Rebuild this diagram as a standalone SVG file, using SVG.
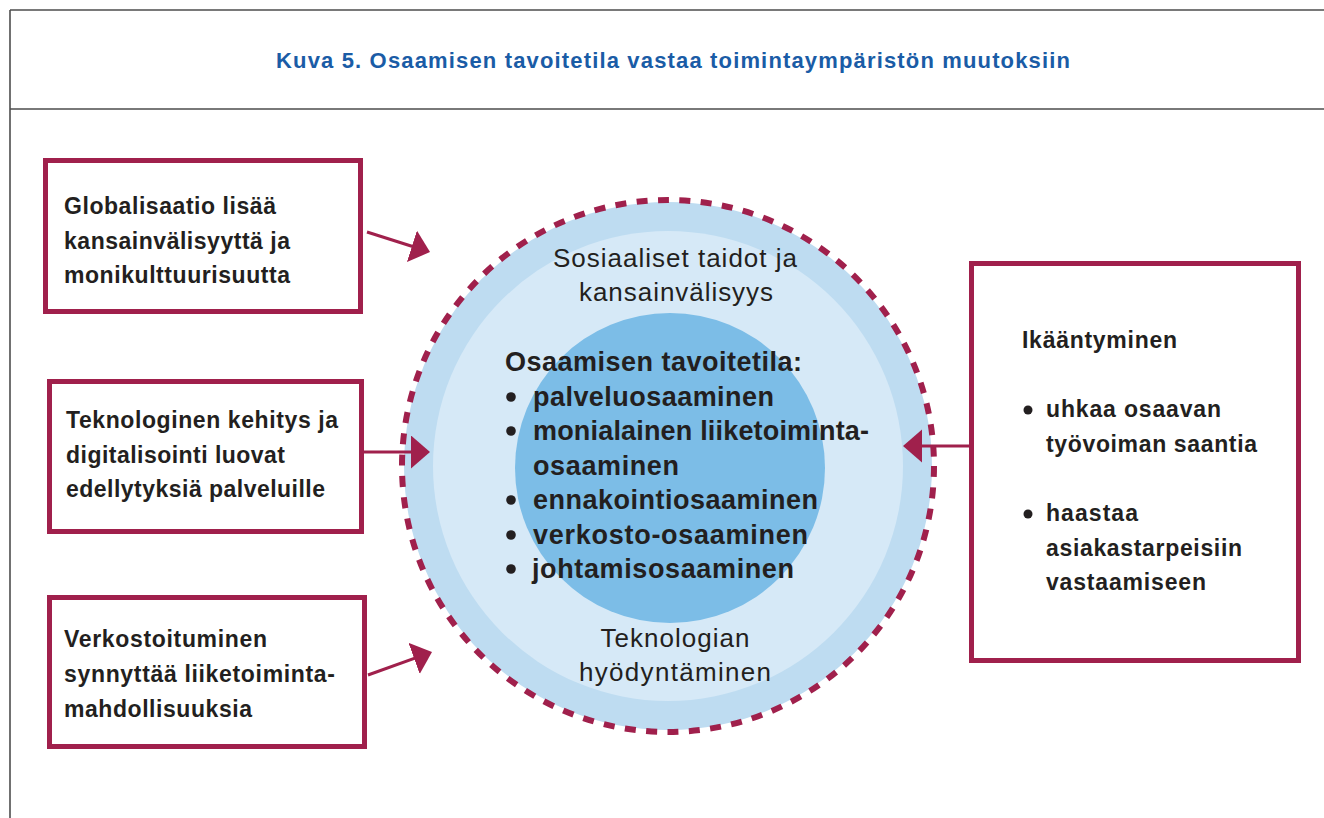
<svg xmlns="http://www.w3.org/2000/svg" width="1324" height="818" viewBox="0 0 1324 818">
<style>
.frame{stroke:#4d4d4d;stroke-width:1.6;fill:none}
.box{fill:#ffffff;stroke:#a0204c;stroke-width:5}
.bt{font-family:"Liberation Sans",Arial,sans-serif;font-weight:bold;font-size:23px;fill:#231f20}
.ct{font-family:"Liberation Sans",Arial,sans-serif;font-weight:bold;font-size:27px;fill:#231f20}
.rt{font-family:"Liberation Sans",Arial,sans-serif;font-size:26px;fill:#231f20;text-anchor:middle}
.title{font-family:"Liberation Sans",Arial,sans-serif;font-weight:bold;font-size:22px;fill:#1a5ca6;text-anchor:middle}
.conn{stroke:#a0204c;stroke-width:3;fill:none}
.dot{fill:#231f20}
</style>
<defs>
<marker id="ah" markerUnits="userSpaceOnUse" markerWidth="20" markerHeight="34" refX="9" refY="16.5" orient="auto" viewBox="0 0 20 34">
<path d="M0,0 L19,16.5 L0,33 Z" fill="#a0204c"/>
</marker>
</defs>
<rect width="1324" height="818" fill="#ffffff"/>
<g id="frame">
<line class="frame" x1="10" y1="10" x2="1324" y2="10"/>
<line class="frame" x1="10" y1="109" x2="1324" y2="109"/>
<line class="frame" x1="10" y1="10" x2="10" y2="818"/>
<text class="title" x="673" y="68" textLength="794">Kuva 5. Osaamisen tavoitetila vastaa toimintaympäristön muutoksiin</text>
</g>
<g id="circle">
<circle cx="668" cy="466" r="264" fill="#bedcf1"/>
<circle cx="668" cy="466" r="266" fill="none" stroke="#a0204c" stroke-width="6" stroke-dasharray="11 10.43"/>
<circle cx="668" cy="466" r="235" fill="#d6e9f7"/>
<circle cx="670" cy="468" r="155" fill="#7cbde7"/>
<text class="rt" x="675" y="267" textLength="244">Sosiaaliset taidot ja</text>
<text class="rt" x="676" y="301" textLength="194">kansainvälisyys</text>
<text class="rt" x="675" y="647" textLength="149">Teknologian</text>
<text class="rt" x="675" y="681" textLength="192">hyödyntäminen</text>
</g>
<g id="core">
<text class="ct" x="505" y="371" textLength="297">Osaamisen tavoitetila:</text>
<circle class="dot" cx="511" cy="397" r="4.8"/>
<text class="ct" x="533" y="405.5" textLength="241">palveluosaaminen</text>
<circle class="dot" cx="511" cy="431" r="4.8"/>
<text class="ct" x="533" y="440" textLength="336">monialainen liiketoiminta-</text>
<text class="ct" x="533" y="474.5" textLength="146">osaaminen</text>
<circle class="dot" cx="511" cy="500" r="4.8"/>
<text class="ct" x="533" y="509" textLength="285">ennakointiosaaminen</text>
<circle class="dot" cx="511" cy="535" r="4.8"/>
<text class="ct" x="533" y="543.5" textLength="275">verkosto-osaaminen</text>
<circle class="dot" cx="511" cy="569" r="4.8"/>
<text class="ct" x="532" y="578" textLength="262">johtamisosaaminen</text>
</g>
<g id="box-globalisaatio">
<rect class="box" x="45.5" y="160.5" width="315" height="151"/>
<text class="bt" x="64" y="214" textLength="212">Globalisaatio lisää</text>
<text class="bt" x="64" y="249" textLength="226">kansainvälisyyttä ja</text>
<text class="bt" x="64" y="283" textLength="226">monikulttuurisuutta</text>
</g>
<g id="box-teknologinen">
<rect class="box" x="49.5" y="381.5" width="312" height="150"/>
<text class="bt" x="66" y="428" textLength="272">Teknologinen kehitys ja</text>
<text class="bt" x="66" y="462.5" textLength="219">digitalisointi luovat</text>
<text class="bt" x="66" y="497" textLength="259">edellytyksiä palveluille</text>
</g>
<g id="box-verkostoituminen">
<rect class="box" x="49.5" y="597.5" width="315" height="149"/>
<text class="bt" x="64" y="647" textLength="203">Verkostoituminen</text>
<text class="bt" x="64" y="682" textLength="271">synnyttää liiketoiminta-</text>
<text class="bt" x="64" y="717" textLength="188">mahdollisuuksia</text>
</g>
<g id="box-ikaantyminen">
<rect class="box" x="971.5" y="263.5" width="327" height="397"/>
<text class="bt" x="1022" y="348" textLength="155">Ikääntyminen</text>
<circle class="dot" cx="1028" cy="410" r="4.5"/>
<text class="bt" x="1046" y="417" textLength="175">uhkaa osaavan</text>
<text class="bt" x="1046" y="452" textLength="211">työvoiman saantia</text>
<circle class="dot" cx="1028" cy="514" r="4.5"/>
<text class="bt" x="1046" y="521" textLength="92">haastaa</text>
<text class="bt" x="1046" y="556" textLength="196">asiakastarpeisiin</text>
<text class="bt" x="1046" y="590" textLength="160">vastaamiseen</text>
</g>
<g id="connectors">
<line class="conn" x1="367" y1="232" x2="420.5" y2="249" marker-end="url(#ah)"/>
<line class="conn" x1="364" y1="452" x2="420" y2="452" marker-end="url(#ah)"/>
<line class="conn" x1="368" y1="675" x2="422.6" y2="655.4" marker-end="url(#ah)"/>
<line class="conn" x1="969" y1="446" x2="913" y2="446" marker-end="url(#ah)"/>
</g>
</svg>
